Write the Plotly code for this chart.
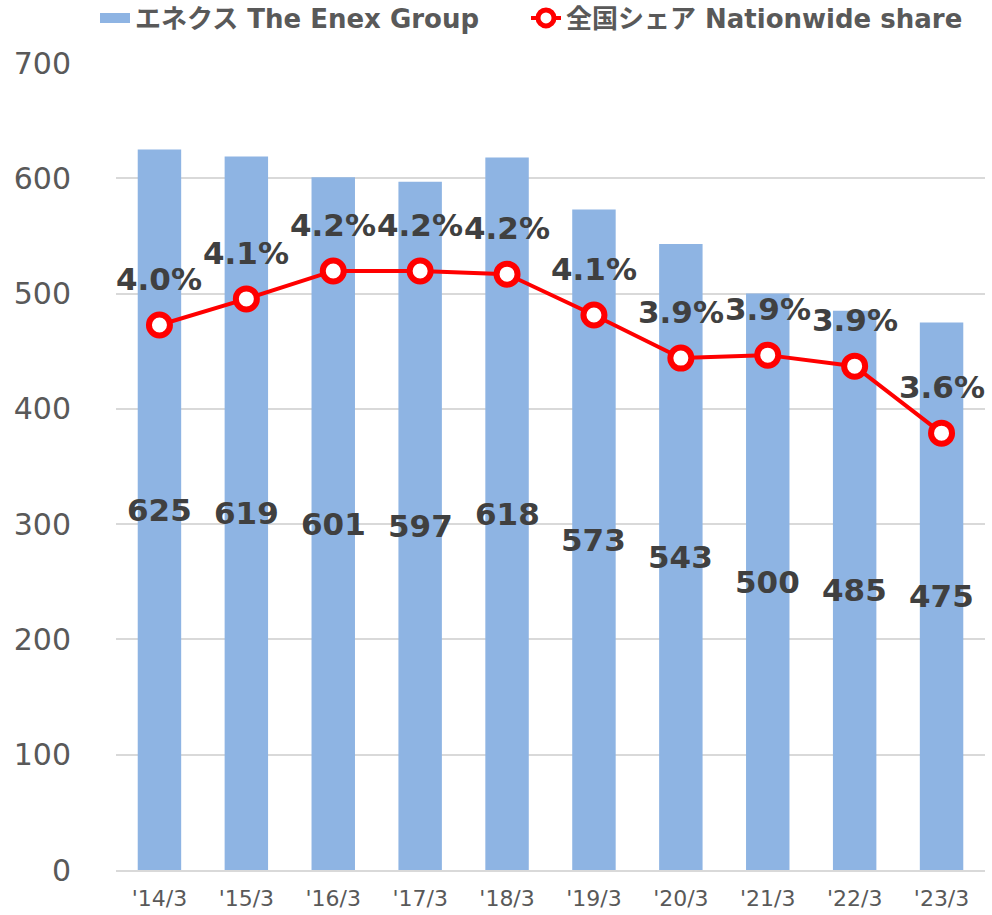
import plotly.graph_objects as go

categories = ["'14/3", "'15/3", "'16/3", "'17/3", "'18/3", "'19/3", "'20/3", "'21/3", "'22/3", "'23/3"]
enex_values = [625, 619, 601, 597, 618, 573, 543, 500, 485, 475]
share_values = [4.026, 4.123, 4.227, 4.227, 4.215, 4.063, 3.903, 3.914, 3.873, 3.624]
y_ticks = [0, 100, 200, 300, 400, 500, 600, 700]

FONT = "DejaVu Sans, Noto Sans CJK JP, sans-serif"
LABEL_COLOR = "#404040"
TICK_COLOR = "#595959"
BAR_COLOR = "#8EB4E3"

fig = go.Figure()
fig.add_trace(go.Bar(
    x=categories, y=enex_values, name="エネクス The Enex Group",
    marker=dict(color=BAR_COLOR, line=dict(width=0)),
    yaxis="y", showlegend=False,
))
# legend proxy for the bar series (wide swatch)
fig.add_trace(go.Scatter(
    x=[None], y=[None], name="エネクス The Enex Group", mode="lines",
    line=dict(color=BAR_COLOR, width=14), yaxis="y", legend="legend",
))
fig.add_trace(go.Scatter(
    x=categories, y=share_values, name="全国シェア Nationwide share",
    mode="lines+markers",
    line=dict(color="#FF0000", width=4),
    marker=dict(symbol="circle", size=21, color="white", line=dict(color="#FF0000", width=6)),
    yaxis="y2", legend="legend2",
))

annotations = []
for c, v in zip(categories, enex_values):
    annotations.append(dict(x=c, y=v / 2, xref="x", yref="y", text=f"<b>{v}</b>",
                            showarrow=False, font=dict(family=FONT, size=31, color=LABEL_COLOR)))
for c, s in zip(categories, share_values):
    annotations.append(dict(x=c, y=s, xref="x", yref="y2", text=f"<b>{s:.1f}%</b>",
                            showarrow=False, yshift=46,
                            font=dict(family=FONT, size=31, color=LABEL_COLOR)))

legend_common = dict(orientation="h", xref="container", yref="container",
                     xanchor="left", y=1 - 18 / 915, yanchor="middle",
                     font=dict(family=FONT, size=26, color=TICK_COLOR, weight="bold"),
                     bgcolor="rgba(0,0,0,0)")

fig.update_layout(
    width=992, height=915,
    margin=dict(l=116, r=7, t=63, b=45, autoexpand=False),
    plot_bgcolor="white", paper_bgcolor="white",
    bargap=0.5,
    font=dict(family=FONT, color=TICK_COLOR),
    showlegend=True,
    legend=dict(x=95 / 992, **legend_common),
    legend2=dict(x=526 / 992, **legend_common),
    xaxis=dict(range=[-0.5, len(categories) - 0.5], showgrid=False, showline=True,
               linecolor="#D9D9D9", linewidth=1.5,
               ticks="", ticklabelstandoff=8,
               tickfont=dict(family=FONT, size=22, color=TICK_COLOR)),
    yaxis=dict(range=[0, 700], tickvals=y_ticks, showgrid=True, gridcolor="#D9D9D9", gridwidth=1.5,
               zeroline=False, showline=False, ticks="", ticklabelstandoff=44,
               tickfont=dict(family=FONT, size=30, color=TICK_COLOR)),
    yaxis2=dict(range=[2, 5], overlaying="y", side="right", visible=False, showgrid=False),
    annotations=annotations,
)

fig.write_html("out.html", config={"displayModeBar": False},
               post_script="document.body.style.margin='0';")
